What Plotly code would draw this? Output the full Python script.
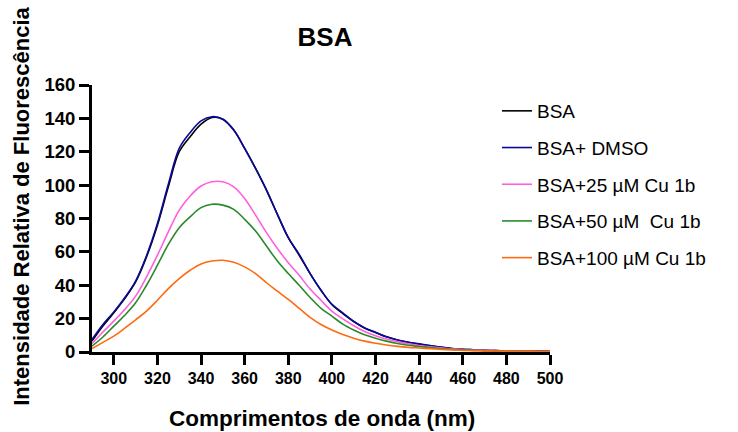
import plotly.graph_objects as go

wavelength = list(range(290, 505, 5))

bsa = [6.5, 15.5, 23.5, 32, 42, 57, 76, 99, 120, 129, 136.5, 140.5, 139.5, 133, 122, 110, 97, 82.5,
       68.5, 58, 47, 37, 28.5, 23, 18.3, 14.4, 11.7, 9.1, 7.2, 5.8, 4.7, 3.7, 2.8, 2.1, 1.6, 1.3,
       1.0, 0.8, 0.7, 0.6, 0.5, 0.5, 0.4]
bsa_dmso = [7.5, 16.5, 24, 32.5, 42.5, 57.7, 77, 100.5, 122, 131.5, 138.5, 141, 139.5, 133, 122, 110, 97, 82.5,
            68.5, 58.5, 47, 37, 28.5, 23.5, 18.3, 14.4, 11.8, 9.1, 7.2, 5.8, 4.9, 3.9, 2.9, 2.1, 1.6, 1.3,
            1.0, 0.8, 0.7, 0.6, 0.5, 0.5, 0.4]
bsa_25 = [5, 12, 18.5, 25.5, 33.5, 45, 58, 72, 85, 93.5, 99.5, 102, 102, 99, 92, 82, 71.5, 62,
          53.5, 46, 37.7, 31, 24.5, 19.8, 15.7, 12.3, 9.8, 7.8, 6.2, 4.9, 3.9, 3.1, 2.5, 1.9, 1.5, 1.2,
          1.0, 0.8, 0.7, 0.6, 0.5, 0.4, 0.4]
bsa_50 = [3.5, 9, 15.5, 22, 29.5, 40, 52, 64.5, 74.5, 81, 86.5, 88.5, 88, 85.5, 79.5, 72.5, 63.5, 54.5,
          47, 40, 32.7, 26.2, 21.5, 16.7, 13.2, 10.3, 8.2, 6.5, 5.1, 4.0, 3.3, 2.6, 2.1, 1.6, 1.3, 1.0,
          0.8, 0.7, 0.6, 0.5, 0.4, 0.4, 0.3]
bsa_100 = [2, 5.8, 9.5, 14.3, 19.3, 24.5, 31, 38, 44, 49, 52.8, 54.5, 55, 53.8, 51, 47, 41.5, 36.5,
           31.5, 26.2, 20.8, 16.5, 13.2, 10.5, 8.3, 6.5, 5.2, 4.2, 3.4, 2.8, 2.4, 2.0, 1.6, 1.3, 1.0, 0.8,
           0.7, 0.6, 0.5, 0.4, 0.4, 0.3, 0.3]

series_names = ["BSA", "BSA+ DMSO", "BSA+25 µM Cu 1b", "BSA+50 µM\u00a0 Cu 1b", "BSA+100 µM Cu 1b"]
series_values = [bsa, bsa_dmso, bsa_25, bsa_50, bsa_100]
series_colors = ["#000000", "#0a0a9a", "#ff5ee0", "#2a8a2a", "#ff6a10"]

x_ticks = list(range(300, 520, 20))
y_ticks = list(range(0, 180, 20))

FONT = "Liberation Sans, Arial, sans-serif"

fig = go.Figure()
for i, (name, vals, col) in enumerate(zip(series_names, series_values, series_colors)):
    fig.add_trace(go.Scatter(x=wavelength, y=vals, mode="lines", name=name,
                             line=dict(color=col, width=1.6, shape="spline", smoothing=1.0),
                             legendgroup=f"g{i}"))

L, R, T, B = 92, 550, 85, 352.5
W, H = 738, 432

fig.update_layout(
    width=W, height=H,
    margin=dict(l=L, r=W - R, t=T, b=H - B),
    paper_bgcolor="white", plot_bgcolor="white",
    font=dict(family=FONT, color="black"),
    title=dict(text="<b>BSA</b>", x=325 / W, xanchor="center", xref="container",
               y=1 - 37 / H, yanchor="middle", yref="container",
               font=dict(size=26, family=FONT, color="black")),
    showlegend=True,
    legend=dict(x=(497 - L) / (R - L), xanchor="left", y=(B - 92) / (B - T), yanchor="top",
                font=dict(size=19, family=FONT, color="black"),
                tracegroupgap=9, bgcolor="rgba(0,0,0,0)"),
)
fig.update_xaxes(range=[290, 500], tickvals=x_ticks, ticktext=[str(v) for v in x_ticks],
                 showgrid=False, zeroline=False, showline=True, linecolor="black", linewidth=3,
                 ticks="outside", ticklen=10, tickwidth=3, tickcolor="black",
                 tickfont=dict(size=16, family=FONT, color="black", weight="bold"))
fig.update_yaxes(range=[0, 160], tickvals=y_ticks, ticktext=[str(v) for v in y_ticks],
                 showgrid=False, zeroline=False, showline=True, linecolor="black", linewidth=3,
                 ticks="outside", ticklen=10, tickwidth=3, tickcolor="black",
                 tickfont=dict(size=18.5, family=FONT, color="black", weight="bold"))

fig.add_annotation(text="<b>Comprimentos de onda (nm)</b>", xref="paper", yref="paper",
                   x=(321.5 - L) / (R - L), y=(B - 419) / (B - T), xanchor="center", yanchor="middle",
                   showarrow=False, font=dict(size=22.5, family=FONT, color="black"))
fig.add_annotation(text="<b>Intensidade Relativa de Fluorescência</b>", xref="paper", yref="paper",
                   x=(22 - L) / (R - L), y=(B - 207) / (B - T), xanchor="center", yanchor="middle",
                   textangle=-90, showarrow=False, font=dict(size=22, family=FONT, color="black"))

fig.write_html("out.html", config={"displayModeBar": False},
               post_script="document.body.style.margin='0';document.body.style.padding='0';")
